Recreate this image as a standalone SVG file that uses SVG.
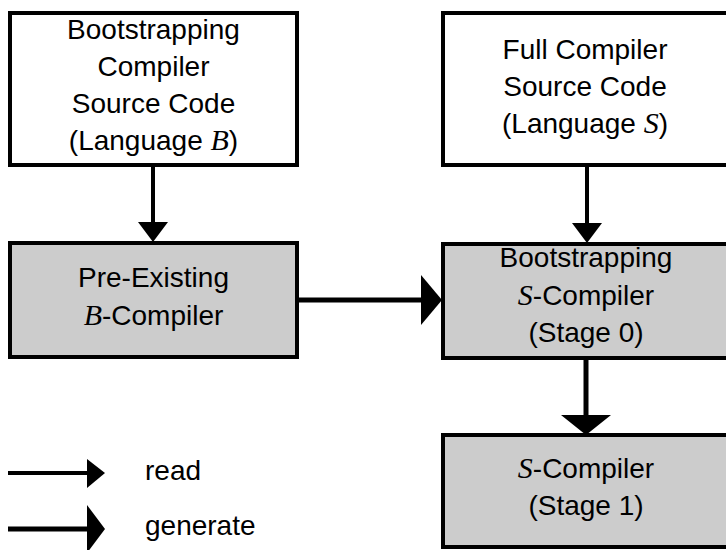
<svg xmlns="http://www.w3.org/2000/svg" width="726" height="550" viewBox="0 0 726 550">
<style>
.box{stroke:#000;stroke-width:4;}
.src{fill:#fff;}
.cmp{fill:#cccccc;}
.t{font-family:"Liberation Sans",Arial,sans-serif;font-size:28px;fill:#000;text-anchor:middle;}
.l{font-family:"Liberation Sans",Arial,sans-serif;font-size:28px;fill:#000;}
.i{font-family:"Liberation Serif","Times New Roman",serif;font-style:italic;font-size:30px;}
.rd{stroke:#000;stroke-width:4;fill:none;}
.gn{stroke:#000;stroke-width:5;fill:none;}
.hd{fill:#000;}
</style>
<rect width="726" height="550" fill="#fff"/>
<g id="boot-src">
<rect class="box src" x="10" y="13" width="287" height="152"/>
<text class="t" x="153.5" y="39">Bootstrapping</text>
<text class="t" x="153.5" y="76">Compiler</text>
<text class="t" x="153.5" y="113">Source Code</text>
<text class="t" x="153.5" y="150">(Language <tspan class="i">B</tspan>)</text>
</g>
<g id="full-src">
<rect class="box src" x="443" y="13" width="290" height="152"/>
<text class="t" x="585" y="59">Full Compiler</text>
<text class="t" x="585" y="96">Source Code</text>
<text class="t" x="585" y="133">(Language <tspan class="i">S</tspan>)</text>
</g>
<g id="b-compiler">
<rect class="box cmp" x="10" y="243" width="287" height="114"/>
<text class="t" x="153.5" y="287">Pre-Existing</text>
<text class="t" x="153.5" y="325"><tspan class="i">B</tspan>-Compiler</text>
</g>
<g id="s-compiler-0">
<rect class="box cmp" x="443" y="244" width="290" height="114"/>
<text class="t" x="586" y="267">Bootstrapping</text>
<text class="t" x="586" y="305"><tspan class="i">S</tspan>-Compiler</text>
<text class="t" x="586" y="342">(Stage 0)</text>
</g>
<g id="s-compiler-1">
<rect class="box cmp" x="443" y="435" width="290" height="112"/>
<text class="t" x="586" y="478"><tspan class="i">S</tspan>-Compiler</text>
<text class="t" x="586" y="515">(Stage 1)</text>
</g>
<g id="connectors">
<line class="rd" x1="153" y1="165" x2="153" y2="224"/>
<polygon class="hd" points="138,222 168,222 153,242"/>
<line class="rd" x1="587" y1="165" x2="587" y2="224"/>
<polygon class="hd" points="572,223 602,223 587,243"/>
<line class="gn" x1="297" y1="300" x2="424" y2="300"/>
<polygon class="hd" points="421,275 421,325 442,300"/>
<line class="gn" x1="586" y1="358" x2="586" y2="417"/>
<polygon class="hd" points="561,415 611,415 586,435"/>
</g>
<g id="legend">
<line class="rd" x1="8" y1="473" x2="89" y2="473"/>
<polygon class="hd" points="87,459 87,488 105,473"/>
<text class="l" x="145" y="480">read</text>
<line class="gn" x1="8" y1="529" x2="89" y2="529"/>
<polygon class="hd" points="87,505 87,553 105,529"/>
<text class="l" x="145" y="535">generate</text>
</g>
</svg>
